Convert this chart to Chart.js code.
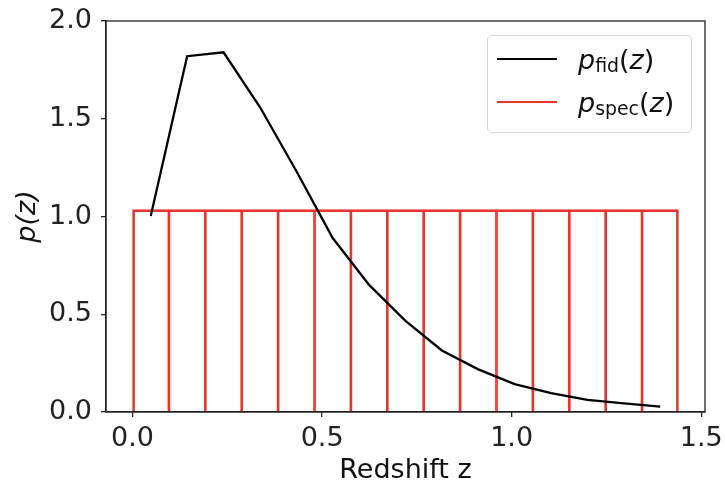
<!DOCTYPE html>
<html>
<head>
<meta charset="utf-8">
<title>Redshift distribution</title>
<script src="https://cdn.jsdelivr.net/npm/chart.js@4.4.1/dist/chart.umd.min.js"></script>
<style>
  body { margin: 0; background: #fff; }
  #wrap { position: relative; width: 725px; height: 484px; }
  .legend {
    position: absolute; left: 487px; top: 35px; width: 203px; height: 96px;
    border: 1px solid #d6d6d6; border-radius: 5px; background: rgba(255,255,255,0.8);
    font-family: 'DejaVu Sans', sans-serif; font-size: 27px; color: #111;
  }
  .row { position: absolute; left: 0; height: 40px; display: flex; align-items: center; white-space: nowrap; }
  .swatch { width: 60px; height: 2px; margin-left: 9px; margin-right: 21px; }
  .it { font-style: italic; }
  .sub { font-size: 0.7em; position: relative; top: 0.2em; }
</style>
</head>
<body>
<div id="wrap">
  <canvas id="pz" width="725" height="484"></canvas>
  <div class="legend">
    <div class="row" style="top:3px"><span class="swatch" style="background:#000"></span><span><span class="it">p</span><span class="sub">fid</span>(<span class="it">z</span>)</span></div>
    <div class="row" style="top:46px"><span class="swatch" style="background:#e8352b"></span><span><span class="it">p</span><span class="sub">spec</span>(<span class="it">z</span>)</span></div>
  </div>
</div>
<script>
// spectroscopic sample: 15 equal-width bins, flat density
const binEdges = [0, 0.096, 0.192, 0.288, 0.384, 0.48, 0.576, 0.672, 0.768, 0.864, 0.96, 1.056, 1.152, 1.248, 1.344, 1.44];
const specHeight = [1.035, 1.035, 1.035, 1.035, 1.035, 1.035, 1.035, 1.035, 1.035, 1.035, 1.035, 1.035, 1.035, 1.035, 1.035];

// fiducial redshift distribution sampled at the bin centres
const zFid = [0.048, 0.144, 0.24, 0.336, 0.432, 0.528, 0.624, 0.72, 0.816, 0.912, 1.008, 1.104, 1.2, 1.296, 1.392];
const pFid = [1.003, 1.82, 1.84, 1.56, 1.233, 0.89, 0.65, 0.466, 0.315, 0.218, 0.143, 0.096, 0.062, 0.044, 0.027];

const xTicks = [0, 0.5, 1.0, 1.5];
const yTicks = [0, 0.5, 1.0, 1.5, 2.0];

const axisColor = '#222';
const red = '#e8352b';
const font = { family: 'DejaVu Sans', size: 27 };

const specBars = specHeight.map((h, i) => ({ x: (binEdges[i] + binEdges[i + 1]) / 2, y: h }));
const fidPoints = zFid.map((z, i) => ({ x: z, y: pFid[i] }));

// closed box around the plot area, drawn over the data like matplotlib spines
const frame = {
  id: 'frame',
  afterDatasetsDraw(chart) {
    const { ctx, chartArea: a } = chart;
    ctx.save();
    ctx.strokeStyle = axisColor;
    ctx.lineWidth = 1.3;
    ctx.strokeRect(a.left, a.top, a.right - a.left, a.bottom - a.top);
    ctx.restore();
  }
};

new Chart(document.getElementById('pz'), {
  type: 'bar',
  data: {
    datasets: [
      {
        type: 'line',
        data: fidPoints,
        borderColor: '#000',
        borderWidth: 2.3,
        pointRadius: 0,
        tension: 0,
        order: 0
      },
      {
        type: 'bar',
        data: specBars,
        backgroundColor: 'rgba(0,0,0,0)',
        borderColor: red,
        borderSkipped: false,
        borderWidth: ctx => ({
          top: 2,
          bottom: 0,
          left: ctx.dataIndex === 0 ? 2 : 1,
          right: ctx.dataIndex === specHeight.length - 1 ? 2 : 1
        }),
        barPercentage: 1,
        categoryPercentage: 1,
        order: 1
      }
    ]
  },
  options: {
    responsive: false,
    animation: false,
    devicePixelRatio: 1,
    layout: { padding: { top: 21, right: 20, left: 0, bottom: 0 } },
    plugins: { legend: { display: false }, tooltip: { enabled: false } },
    scales: {
      x: {
        type: 'linear',
        min: -0.07,
        max: 1.51,
        offset: false,
        afterBuildTicks: s => { s.ticks = xTicks.map(v => ({ value: v })); },
        // fixed height; edge labels fit inside the layout padding already
        afterFit: s => { s.height = 72; s.paddingLeft = 0; s.paddingRight = 0; },
        ticks: { font, color: axisColor, padding: 6, maxRotation: 0, callback: v => v.toFixed(1) },
        grid: { offset: false, drawOnChartArea: false, tickLength: 5, color: axisColor, lineWidth: 1.3 },
        border: { color: axisColor, width: 1.3 },
        title: { display: true, text: 'Redshift z', font: { ...font, lineHeight: 1 }, color: '#111', padding: { top: 0, bottom: 0 } }
      },
      y: {
        min: 0,
        max: 2,
        afterBuildTicks: s => { s.ticks = yTicks.map(v => ({ value: v })); },
        afterFit: s => { s.width = 106; s.paddingTop = 0; s.paddingBottom = 0; },
        ticks: { font, color: axisColor, padding: 9, callback: v => v.toFixed(1) },
        grid: { drawOnChartArea: false, tickLength: 5, color: axisColor, lineWidth: 1.3 },
        border: { color: axisColor, width: 1.3 },
        title: { display: true, text: 'p(z)', font: { ...font, style: 'italic', lineHeight: 1 }, color: '#111', padding: { top: 14, bottom: 0 } }
      }
    }
  },
  plugins: [frame]
});
</script>
</body>
</html>
